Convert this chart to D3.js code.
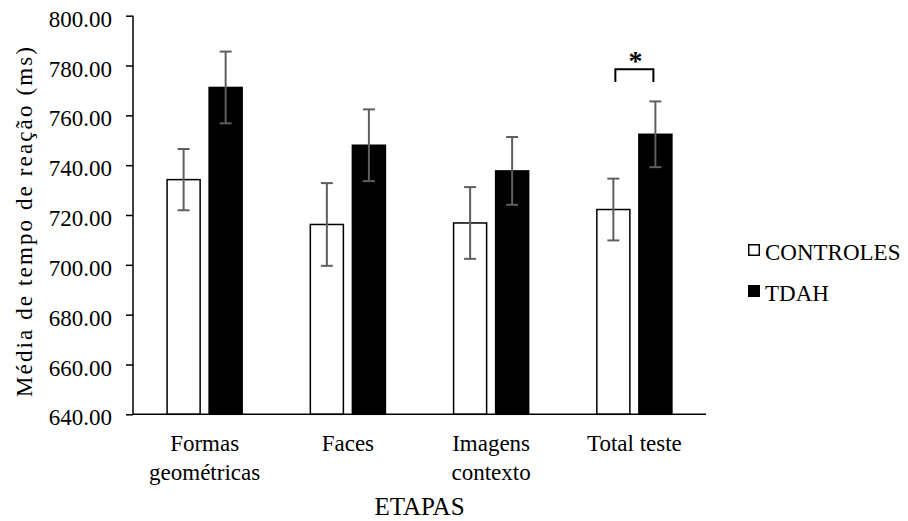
<!DOCTYPE html>
<html>
<head>
<meta charset="utf-8">
<script src="https://cdn.jsdelivr.net/npm/d3@7"></script>
<style>
  body { margin: 0; background: #fff; }
  svg text { font-family: "Liberation Serif", "Times New Roman", serif !important; fill: #000; }
</style>
</head>
<body>
<div id="vis"></div>
<script>
const WIDTH = 908;
const HEIGHT = 521;
const SERIF = '"Liberation Serif", "Times New Roman", serif';

// data
const categories = ["Formas geométricas", "Faces", "Imagens contexto", "Total teste"];
const categoryLines = [["Formas", "geométricas"], ["Faces"], ["Imagens", "contexto"], ["Total teste"]];
const seriesNames = ["CONTROLES", "TDAH"];
const controles = [734.2, 716.2, 716.8, 722.2];
const controlesErr = [12.3, 16.6, 14.4, 12.4];
const tdah = [771.2, 748.0, 737.7, 752.4];
const tdahErr = [14.4, 14.4, 13.6, 13.2];
const yTicks = [640, 660, 680, 700, 720, 740, 760, 780, 800];
const significant = ["Total teste"];

const margin = { left: 133, right: 202, top: 15.7, bottom: 106.7 };
const innerW = WIDTH - margin.left - margin.right;
const innerH = HEIGHT - margin.top - margin.bottom;

const svg = d3.select("#vis").append("svg")
	.attr("width", WIDTH)
	.attr("height", HEIGHT);

const g = svg.append("g").attr("transform", `translate(${margin.left},${margin.top})`);

// scales
const x0 = d3.scaleBand()
	.domain(categories)
	.range([0, innerW])
	.paddingInner(0.476)
	.paddingOuter(0.238);

const x1 = d3.scaleBand()
	.domain(seriesNames)
	.range([0, x0.bandwidth()])
	.paddingInner(0.214);

const y = d3.scaleLinear()
	.domain([640, 800])
	.range([innerH, 0]);

const rows = categories.map((c, i) => ({
	cat: c,
	values: [
		{ s: "CONTROLES", v: controles[i], e: controlesErr[i] },
		{ s: "TDAH", v: tdah[i], e: tdahErr[i] }
	]
}));

// bars
const groups = g.selectAll(".grp")
	.data(rows)
	.enter().append("g")
	.attr("transform", d => `translate(${x0(d.cat)},0)`);

groups.selectAll("rect")
	.data(d => d.values)
	.enter().append("rect")
	.attr("x", d => x1(d.s))
	.attr("y", d => y(d.v))
	.attr("width", x1.bandwidth())
	.attr("height", d => innerH - y(d.v))
	.attr("fill", d => d.s === "TDAH" ? "#000" : "#fff")
	.attr("stroke", "#000")
	.attr("stroke-width", 1.5);

// error bars
const err = groups.selectAll(".err")
	.data(d => d.values)
	.enter().append("g")
	.attr("stroke", "#5f5f5f")
	.attr("stroke-width", 2);

err.append("line")
	.attr("x1", d => x1(d.s) + x1.bandwidth() / 2)
	.attr("x2", d => x1(d.s) + x1.bandwidth() / 2)
	.attr("y1", d => y(d.v + d.e))
	.attr("y2", d => y(d.v - d.e));
err.append("line")
	.attr("x1", d => x1(d.s) + x1.bandwidth() / 2 - 6)
	.attr("x2", d => x1(d.s) + x1.bandwidth() / 2 + 6)
	.attr("y1", d => y(d.v + d.e))
	.attr("y2", d => y(d.v + d.e));
err.append("line")
	.attr("x1", d => x1(d.s) + x1.bandwidth() / 2 - 6)
	.attr("x2", d => x1(d.s) + x1.bandwidth() / 2 + 6)
	.attr("y1", d => y(d.v - d.e))
	.attr("y2", d => y(d.v - d.e));

// y axis
const yAxis = g.append("g")
	.attr("font-family", SERIF)
	.call(d3.axisLeft(y).tickValues(yTicks).tickFormat(d3.format(".2f")).tickSize(7).tickPadding(14));
yAxis.attr("font-family", SERIF);
yAxis.select(".domain").attr("stroke", "#000").attr("stroke-width", 1.5).attr("d", `M0,${innerH}V0`);
yAxis.selectAll(".tick line").attr("stroke", "#000").attr("stroke-width", 1.5);
yAxis.selectAll(".tick text")
	.attr("font-size", 23)
	.style("font-family", SERIF)
	.attr("dy", "0.46em");

// x axis line
g.append("line")
	.attr("x1", 0).attr("x2", innerW)
	.attr("y1", innerH).attr("y2", innerH)
	.attr("stroke", "#000").attr("stroke-width", 1.5);

// category labels
categories.forEach((c, i) => {
	const t = g.append("text")
		.attr("text-anchor", "middle")
		.attr("font-size", 23)
		.style("font-family", SERIF)
		.attr("x", x0(c) + x0.bandwidth() / 2)
		.attr("y", innerH + 37);
	categoryLines[i].forEach((line, j) => {
		t.append("tspan")
			.attr("x", x0(c) + x0.bandwidth() / 2)
			.attr("dy", j === 0 ? 0 : 29)
			.text(line);
	});
});

// axis titles
svg.append("text")
	.attr("text-anchor", "middle")
	.attr("font-size", 25)
	.style("font-family", SERIF)
	.attr("x", margin.left + innerW / 2)
	.attr("y", 515)
	.text("ETAPAS");

svg.append("text")
	.attr("text-anchor", "middle")
	.attr("font-size", 23)
	.style("font-family", SERIF)
	.attr("textLength", 350)
	.attr("lengthAdjust", "spacing")
	.attr("transform", `translate(32,${margin.top + innerH / 2 + 7}) rotate(-90)`)
	.text("Média de tempo de reação (ms)");

// significance bracket
significant.forEach(c => {
	const xa = x0(c) + x1("CONTROLES") + x1.bandwidth() / 2 + 2;
	const xb = x0(c) + x1("TDAH") + x1.bandwidth() / 2 - 2;
	const yb = y(778.5);
	g.append("path")
		.attr("d", `M${xa},${yb + 12.7}V${yb}H${xb}V${yb + 12.7}`)
		.attr("fill", "none")
		.attr("stroke", "#000")
		.attr("stroke-width", 2);
	g.append("text")
		.attr("text-anchor", "middle")
		.attr("font-size", 28)
		.attr("font-weight", "bold")
		.style("font-family", SERIF)
		.attr("x", (xa + xb) / 2 + 1)
		.attr("y", yb + 1)
		.text("*");
});

// legend
const legend = svg.append("g").attr("transform", "translate(748,244)");
seriesNames.forEach((s, i) => {
	const row = legend.append("g").attr("transform", `translate(0,${i * 41})`);
	row.append("rect")
		.attr("x", 0.75).attr("y", 0.75)
		.attr("width", 10.5).attr("height", 10.5)
		.attr("fill", s === "TDAH" ? "#000" : "#fff")
		.attr("stroke", "#000")
		.attr("stroke-width", 1.5);
	row.append("text")
		.attr("x", 17)
		.attr("y", 15.5)
		.attr("font-size", 23)
		.style("font-family", SERIF)
		.text(s);
});
</script>
</body>
</html>
